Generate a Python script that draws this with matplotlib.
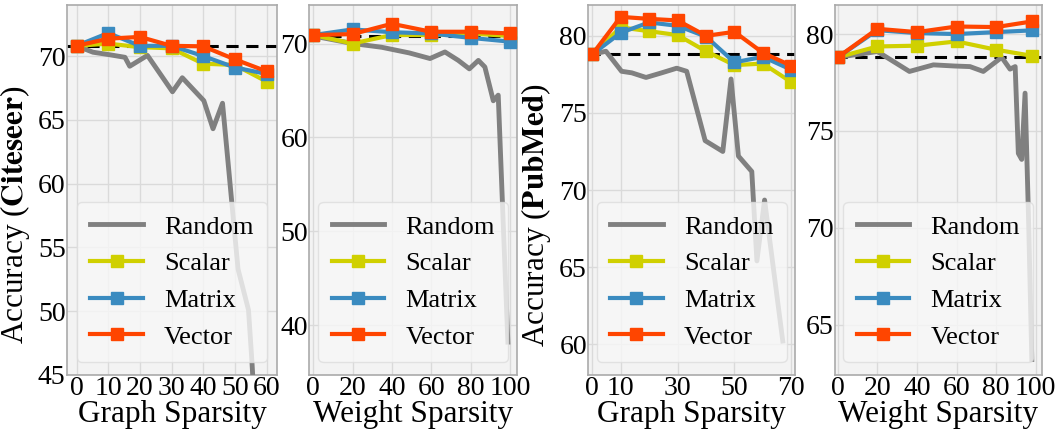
import matplotlib
matplotlib.use("Agg")
import matplotlib.pyplot as plt

plt.rcParams['font.family'] = ['Liberation Serif', 'DejaVu Serif']
plt.rcParams['mathtext.fontset'] = 'stix'

# ---- data ----
graph_x_cite = [0, 10, 20, 30, 40, 50, 60]
graph_x_pub = [0, 10, 20, 30, 40, 50, 60, 70]
weight_x = [0, 20, 40, 60, 80, 100]
weight_x_pub = [0, 20, 40, 60, 80, 98]

# Citeseer, graph sparsity
cite_g_rand_x = [0, 5.2, 10.5, 15.3, 16.8, 22.4, 30.3, 33.4, 40.2, 43.1, 46.1, 51.0, 54.3, 55.4, 56.5]
cite_g_rand_y = [70.8, 70.3, 70.1, 69.9, 69.2, 70.05, 67.2, 68.3, 66.5, 64.3, 66.3, 53.3, 50.1, 46.0, 41.0]
cite_g_scalar = [70.8, 70.97, 70.7, 70.6, 69.4, 69.3, 68.0]
cite_g_matrix = [70.8, 71.8, 70.8, 70.8, 70.0, 69.1, 68.6]
cite_g_vector = [70.8, 71.36, 71.5, 70.8, 70.76, 69.74, 68.8]

# Citeseer, weight sparsity
cite_w_rand_x = [0, 20, 34.8, 48.8, 59.4, 67, 73.8, 79.4, 84, 87.3, 91.6, 94.1, 99]
cite_w_rand_y = [70.8, 70.0, 69.6, 69.0, 68.4, 69.1, 68.2, 67.3, 68.2, 67.5, 63.9, 64.5, 38.2]
cite_w_scalar = [70.9, 70.0, 70.9, 70.9, 71.07, 70.8]
cite_w_matrix = [70.9, 71.5, 71.2, 71.07, 70.6, 70.2]
cite_w_vector = [70.9, 71.0, 72.1, 71.25, 71.25, 71.07]

# PubMed, graph sparsity
pub_g_rand_x = [0, 4.8, 10.3, 13.9, 18.9, 24.4, 29.7, 33.2, 39.7, 45.9, 48.8, 51.4, 56.1, 57.9, 60.6, 67]
pub_g_rand_y = [78.8, 79.0, 77.7, 77.6, 77.3, 77.6, 77.9, 77.7, 73.2, 72.5, 77.2, 72.2, 71.2, 65.4, 69.35, 60.2]
pub_g_scalar = [78.8, 80.55, 80.3, 80.05, 79.0, 78.1, 78.2, 77.0]
pub_g_matrix = [78.8, 80.2, 80.87, 80.65, 79.95, 78.28, 78.64, 77.8]
pub_g_vector = [78.8, 81.23, 81.1, 81.0, 80.0, 80.26, 78.9, 78.06]

# PubMed, weight sparsity
pub_w_rand_x = [0, 20, 36.2, 48.3, 59, 66.8, 73.5, 82.8, 87, 89.6, 91.2, 92.9, 94.6, 96.3, 98]
pub_w_rand_y = [78.8, 79.1, 78.07, 78.41, 78.35, 78.32, 78.07, 78.8, 78.19, 78.32, 73.84, 73.53, 76.95, 70.7, 63.2]
pub_w_scalar = [78.8, 79.36, 79.4, 79.62, 79.19, 78.88]
pub_w_matrix = [78.8, 80.2, 80.05, 80.0, 80.1, 80.19]
pub_w_vector = [78.8, 80.27, 80.1, 80.39, 80.36, 80.65]

base_cite = 70.8
base_pub = 78.8

C_RAND = "#808080"
C_SCALAR = "#d0d000"
C_MATRIX = "#3a8bc0"
C_VECTOR = "#ff4500"

W, H = 1058, 430
fig = plt.figure(figsize=(W / 100, H / 100), dpi=100)

boxes = [(67, 277), (309.3, 517.3), (588.3, 795), (835, 1041.7)]
axes = []
for l, r in boxes:
    ax = fig.add_axes([l / W, 55 / H, (r - l) / W, 370 / H])
    axes.append(ax)


def draw(ax, mx, rx, ry, sc, mt, vc, base, xlabel):
    ax.set_facecolor("#f3f3f3")
    ax.grid(True, color="#dadada", lw=1.0)
    ax.set_axisbelow(True)
    for s in ax.spines.values():
        s.set_color("#aaaaaa")
        s.set_linewidth(1.2)
    ax.axhline(base, color="black", ls=(0, (4, 2.5)), lw=2.2, zorder=2)
    ax.plot(rx, ry, color=C_RAND, lw=3.5, label="Random", zorder=3)
    ax.plot(mx, sc, color=C_SCALAR, lw=3, marker="s", ms=8.5, label="Scalar", zorder=4)
    ax.plot(mx, mt, color=C_MATRIX, lw=3, marker="s", ms=8.5, label="Matrix", zorder=5)
    ax.plot(mx, vc, color=C_VECTOR, lw=3, marker="s", ms=8.5, label="Vector", zorder=6)
    ax.tick_params(labelsize=20, length=0, pad=1)
    leg = ax.legend(loc="lower center", fontsize=19, framealpha=0.8,
                    facecolor="#f8f8f8", edgecolor="#dddddd", borderpad=0.5,
                    labelspacing=0.5, handlelength=2.0)
    leg.set_zorder(10)
    ax.set_xlabel(xlabel, fontsize=22.5)
    ax.xaxis.set_label_coords(0.5, -0.068)


def ylab(ax, text, width_px):
    ax.set_ylabel(text, fontsize=22.5)
    ax.yaxis.set_label_coords(-35 / width_px, 160 / 370)


ax1, ax2, ax3, ax4 = axes
draw(ax1, graph_x_cite, cite_g_rand_x, cite_g_rand_y, cite_g_scalar, cite_g_matrix, cite_g_vector,
     base_cite, "Graph Sparsity")
ax1.set_xlim(-3, 63.3)
ax1.set_ylim(45, 74)
ax1.set_xticks([0, 10, 20, 30, 40, 50, 60])
ax1.set_yticks([45, 50, 55, 60, 65, 70])
ylab(ax1, r"Accuracy ($\mathbf{Citeseer}$)", 210)

draw(ax2, weight_x, cite_w_rand_x, cite_w_rand_y, cite_w_scalar, cite_w_matrix, cite_w_vector,
     base_cite, "Weight Sparsity")
ax2.set_xlim(-2, 103.8)
ax2.set_ylim(34.7, 74.1)
ax2.set_xticks([0, 20, 40, 60, 80, 100])
ax2.set_yticks([40, 50, 60, 70])

draw(ax3, graph_x_pub, pub_g_rand_x, pub_g_rand_y, pub_g_scalar, pub_g_matrix, pub_g_vector,
     base_pub, "Graph Sparsity")
ax3.set_xlim(-1.4, 71.3)
ax3.set_ylim(58, 82)
ax3.set_xticks([0, 10, 30, 50, 70])
ax3.set_yticks([60, 65, 70, 75, 80])
ylab(ax3, r"Accuracy ($\mathbf{PubMed}$)", 206.7)

draw(ax4, weight_x_pub, pub_w_rand_x, pub_w_rand_y, pub_w_scalar, pub_w_matrix, pub_w_vector,
     base_pub, "Weight Sparsity")
ax4.set_xlim(-1.4, 103)
ax4.set_ylim(62.4, 81.5)
ax4.set_xticks([0, 20, 40, 60, 80, 100])
ax4.set_yticks([65, 70, 75, 80])

fig.savefig("out.png", dpi=100)
